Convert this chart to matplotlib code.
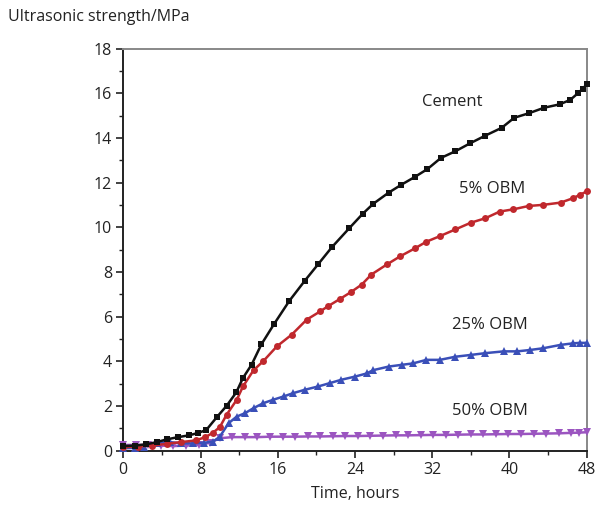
import matplotlib
matplotlib.use("Agg")
import matplotlib.pyplot as plt
from matplotlib.ticker import MultipleLocator

plt.rcParams['font.family'] = ['Open Sans', 'DejaVu Sans']

cement_t = [0, 1.2, 2.4, 3.5, 4.5, 5.7, 6.8, 7.7, 8.6, 9.7, 10.7, 11.7, 12.4, 13.3, 14.3,
            15.6, 17.2, 18.8, 20.2, 21.6, 23.4, 24.8, 25.9, 27.5, 28.8, 30.2, 31.5, 32.9,
            34.4, 35.9, 37.5, 39.2, 40.5, 42.0, 43.6, 45.2, 46.3, 47.1, 47.6, 48.0]
cement_v = [0.2, 0.22, 0.28, 0.38, 0.5, 0.6, 0.68, 0.78, 0.92, 1.5, 2.0, 2.6, 3.25, 3.85, 4.75,
            5.65, 6.7, 7.6, 8.35, 9.1, 9.95, 10.6, 11.05, 11.55, 11.9, 12.25, 12.6, 13.1,
            13.4, 13.75, 14.1, 14.45, 14.9, 15.1, 15.35, 15.5, 15.7, 16.0, 16.2, 16.4]

obm5_t = [0, 1.5, 3.0, 4.5, 6.0, 7.5, 8.5, 9.3, 10.0, 10.7, 11.75, 12.4, 13.5, 14.5, 15.9,
          17.45, 19.0, 20.4, 21.2, 22.5, 23.6, 24.7, 25.7, 27.3, 28.7, 30.2, 31.4, 32.8,
          34.4, 36.0, 37.5, 39.0, 40.4, 42.0, 43.5, 45.3, 46.6, 47.3, 48.0]
obm5_v = [0.15, 0.18, 0.22, 0.3, 0.38, 0.45, 0.6, 0.8, 1.05, 1.6, 2.27, 2.87, 3.6, 4.0, 4.66,
          5.19, 5.86, 6.23, 6.46, 6.8, 7.1, 7.43, 7.88, 8.33, 8.7, 9.05, 9.35, 9.6,
          9.9, 10.2, 10.4, 10.7, 10.8, 10.95, 11.0, 11.1, 11.3, 11.45, 11.6]

obm25_t = [0, 1.2, 2.1, 3.5, 4.8, 6.0, 7.2, 8.4, 9.3, 10.0, 10.9, 11.75, 12.6, 13.5, 14.5,
           15.5, 16.6, 17.6, 18.8, 20.2, 21.4, 22.6, 24.0, 25.2, 25.9, 27.5, 28.9, 30.0,
           31.4, 32.8, 34.4, 36.0, 37.5, 39.4, 40.8, 42.1, 43.5, 45.3, 46.6, 47.3, 48.0]
obm25_v = [0.1, 0.12, 0.17, 0.35, 0.38, 0.32, 0.32, 0.35, 0.4, 0.62, 1.22, 1.52, 1.67, 1.9, 2.12,
           2.27, 2.42, 2.57, 2.72, 2.87, 3.02, 3.17, 3.31, 3.45, 3.6, 3.76, 3.84, 3.9,
           4.06, 4.06, 4.2, 4.28, 4.36, 4.44, 4.44, 4.5, 4.58, 4.73, 4.8, 4.82, 4.82]

obm50_t = [0, 1.3, 2.6, 3.9, 5.2, 6.5, 7.8, 9.0, 10.0, 11.3, 12.6, 13.9, 15.2, 16.5, 17.8,
           19.1, 20.4, 21.7, 23.0, 24.3, 25.6, 26.9, 28.2, 29.5, 30.8, 32.1, 33.4, 34.7,
           36.0, 37.3, 38.6, 39.9, 41.2, 42.5, 43.8, 45.1, 46.4, 47.2, 48.0]
obm50_v = [0.25, 0.25, 0.25, 0.22, 0.2, 0.22, 0.25, 0.35, 0.55, 0.6, 0.6, 0.6, 0.62, 0.62, 0.62,
           0.63, 0.63, 0.64, 0.65, 0.65, 0.66, 0.67, 0.68, 0.68, 0.69, 0.7, 0.7, 0.71,
           0.72, 0.72, 0.73, 0.74, 0.74, 0.75, 0.76, 0.77, 0.79, 0.8, 0.82]

labels = ["Cement", "5% OBM", "25% OBM", "50% OBM"]
label_pos = [(34.1, 15.6), (38.2, 11.7), (38.0, 5.63), (38.0, 1.77)]

x_ticks = [0, 8, 16, 24, 32, 40, 48]
y_ticks = [0, 2, 4, 6, 8, 10, 12, 14, 16, 18]

fig = plt.figure(figsize=(5.95, 5.15), dpi=100)
ax = fig.add_axes([0.2072, 0.1252, 0.986 - 0.2072, 0.9058 - 0.1252])

series = [
    (cement_t, cement_v, '#111111', 's', 4.6),
    (obm5_t, obm5_v, '#c0282d', 'o', 5.0),
    (obm25_t, obm25_v, '#3a4fb8', '^', 5.4),
    (obm50_t, obm50_v, '#9b55c0', 'v', 5.4),
]
for t, v, c, m, ms in reversed(series):
    ax.plot(t, v, color=c, marker=m, markersize=ms, linewidth=1.8,
            markeredgewidth=0, clip_on=False, zorder=3)

for (lx, ly), lab in zip(label_pos, labels):
    ax.text(lx, ly, lab, ha='center', va='center', fontsize=12, color='#222222')

ax.set_xlim(0, 48)
ax.set_ylim(0, 18)
ax.set_xticks(x_ticks)
ax.set_yticks(y_ticks)
ax.xaxis.set_minor_locator(MultipleLocator(4))
ax.yaxis.set_minor_locator(MultipleLocator(1))
ax.tick_params(which='major', direction='out', length=5, width=1.2, labelsize=11.5,
               colors='#222222', pad=3)
ax.tick_params(which='minor', direction='out', length=3, width=1.0, colors='#222222')
for s in ['left', 'bottom']:
    ax.spines[s].set_color('#222222')
    ax.spines[s].set_linewidth(1.4)
for s in ['top', 'right']:
    ax.spines[s].set_color('#888888')
    ax.spines[s].set_linewidth(1.4)

ax.set_xlabel("Time, hours", fontsize=11.5, color='#222222', labelpad=6)
fig.text(8 / 595, 1 - 17 / 515, "Ultrasonic strength/MPa", fontsize=11.5,
         color='#222222', ha='left', va='center')

fig.savefig("out.png", dpi=100)
